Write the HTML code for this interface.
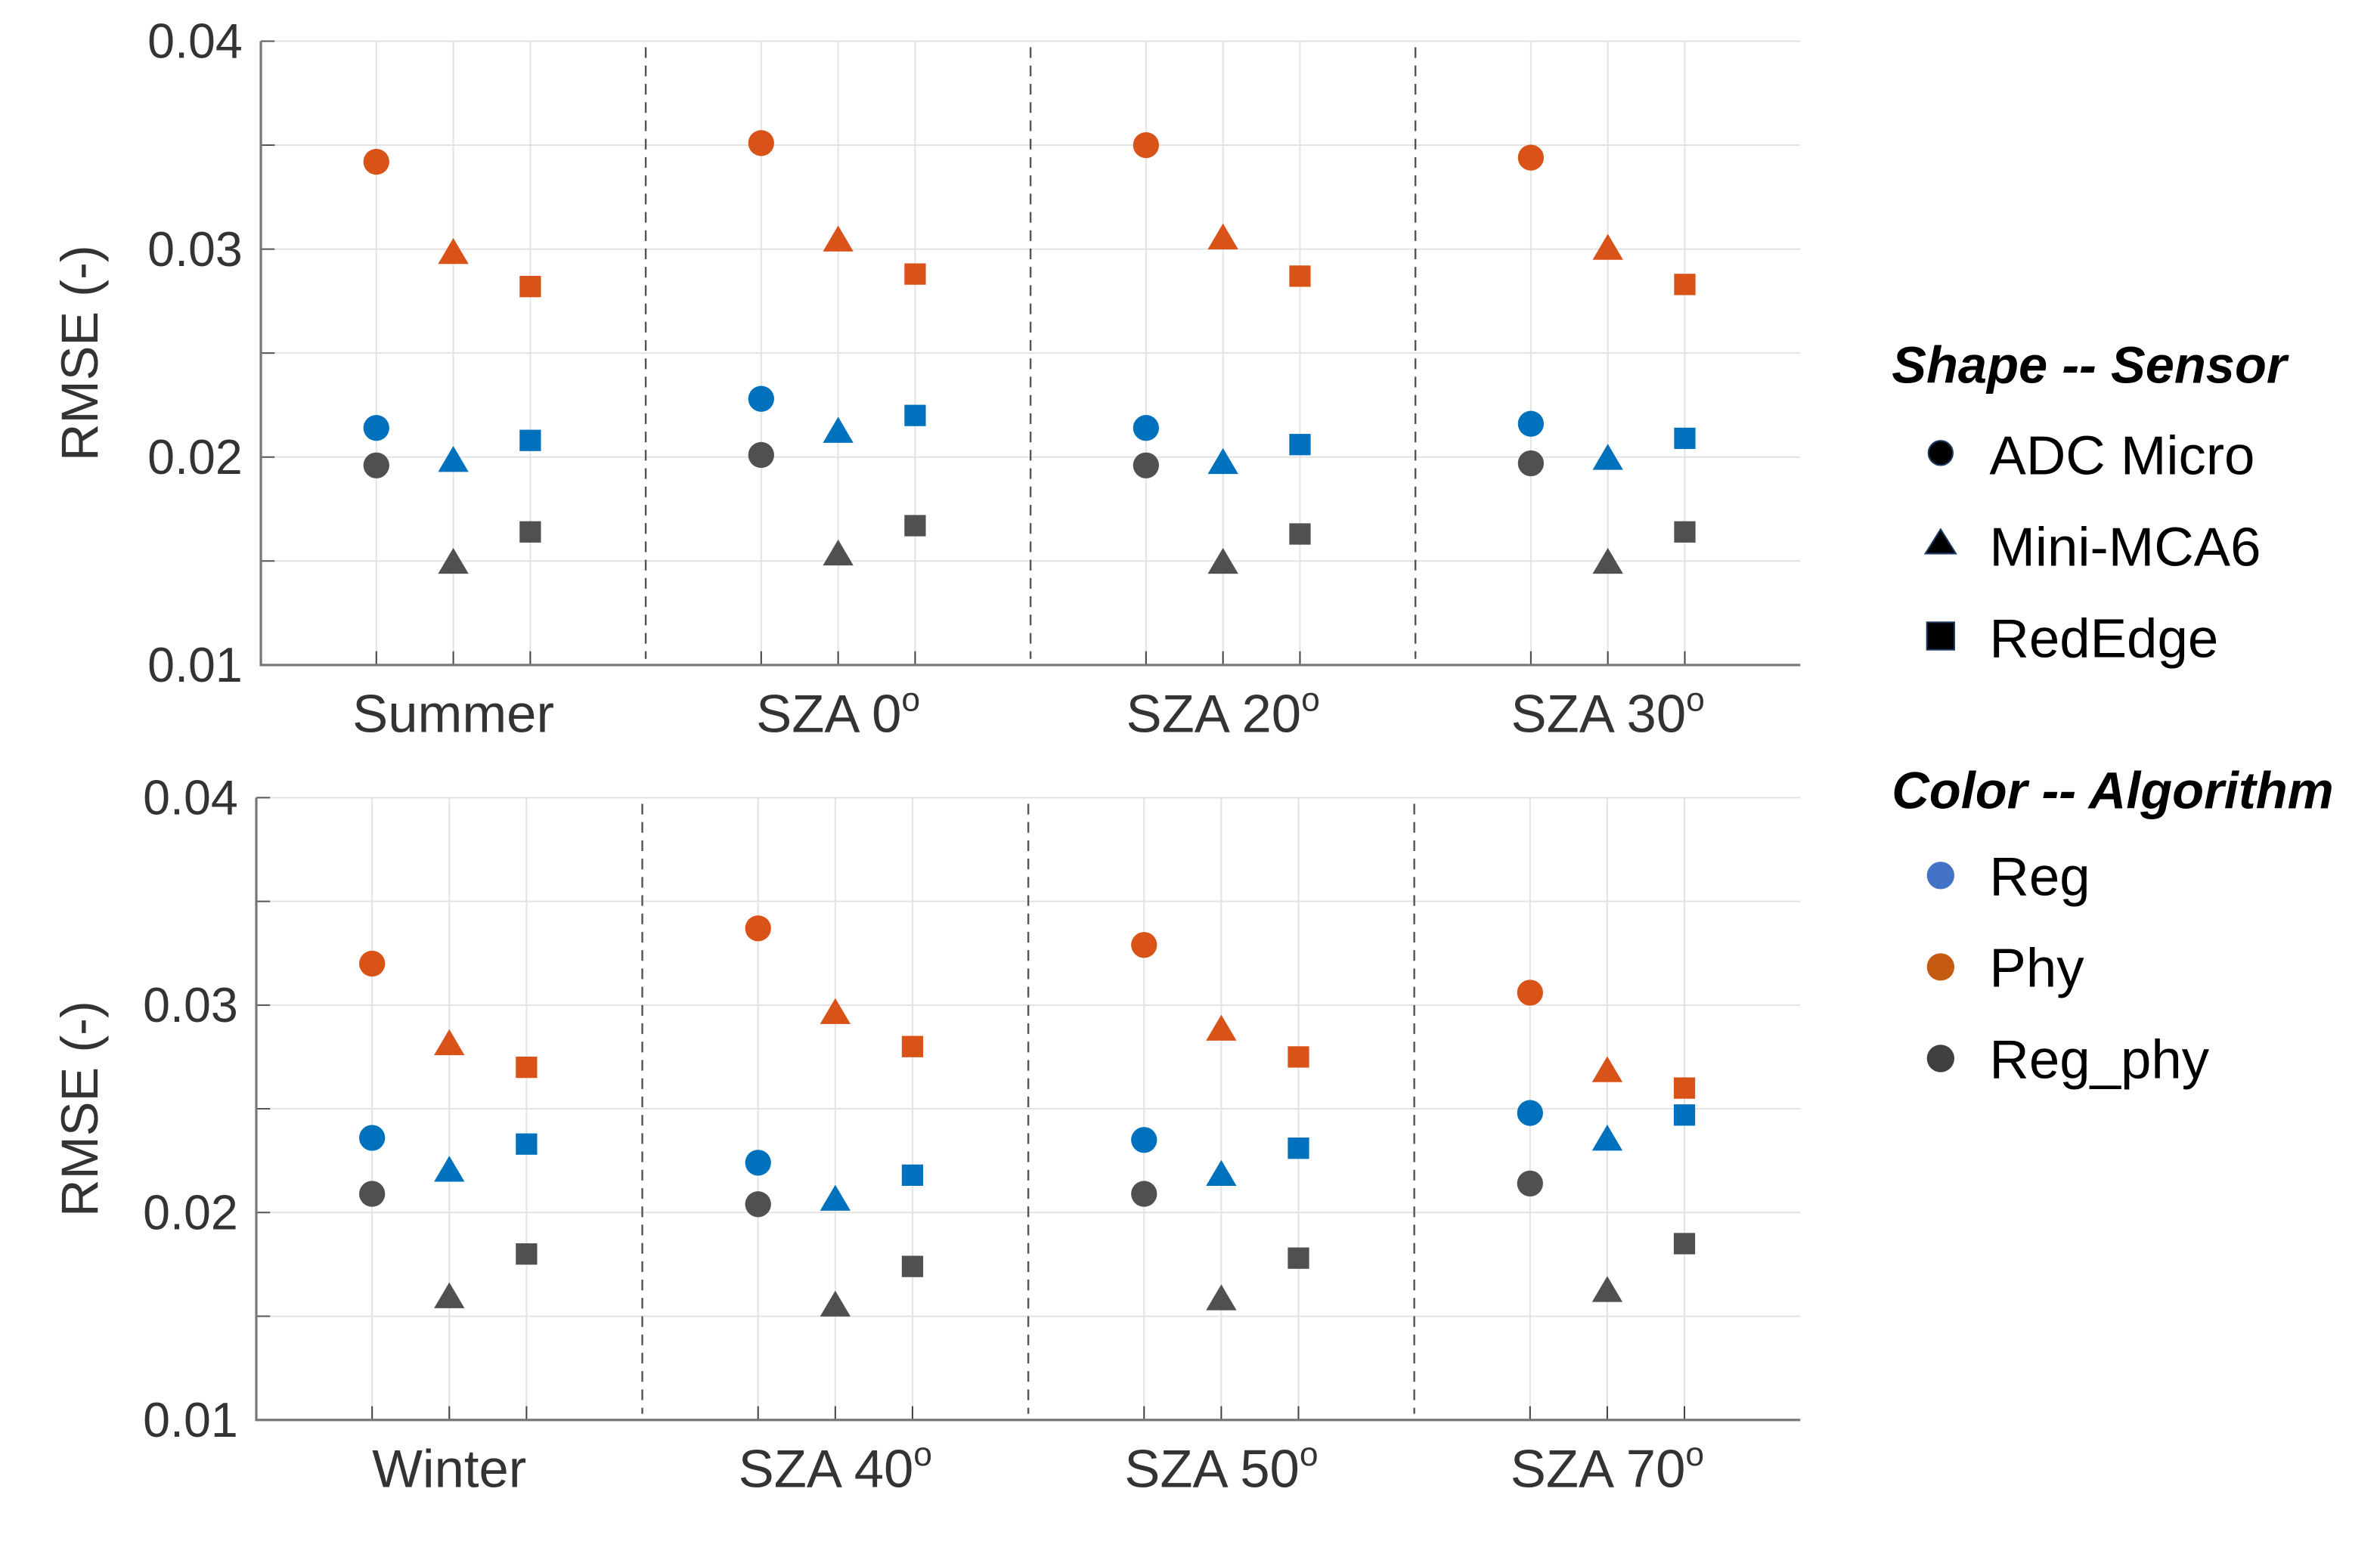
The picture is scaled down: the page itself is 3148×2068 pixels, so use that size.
<!DOCTYPE html>
<html><head><meta charset="utf-8"><style>
html,body{margin:0;padding:0;background:#fff;}
svg{display:block;}
</style></head><body>
<svg id="chart" xmlns="http://www.w3.org/2000/svg" width="3148" height="2068" viewBox="0 0 1560 1024.8" font-family="'Liberation Sans', sans-serif">
<g id="plots"></g>
<g id="legend">
  <text x="1240" y="251" font-size="34" font-weight="bold" font-style="italic" fill="#000">Shape -- Sensor</text>
  <circle cx="1272" cy="297" r="8" fill="#000" stroke="#1f3864" stroke-width="1"/>
  <text x="1304" y="311" font-size="36" fill="#000">ADC Micro</text>
  <polygon points="1272,347 1262,363 1282,363" fill="#000" stroke="#1f3864" stroke-width="1"/>
  <text x="1304" y="371" font-size="36" fill="#000">Mini-MCA6</text>
  <rect x="1263" y="408" width="18" height="18" fill="#000" stroke="#1f3864" stroke-width="1"/>
  <text x="1304" y="431" font-size="36" fill="#000">RedEdge</text>
  <text x="1240" y="530" font-size="34" font-weight="bold" font-style="italic" fill="#000">Color -- Algorithm</text>
  <circle cx="1272" cy="574" r="9" fill="#4472C4"/>
  <text x="1304" y="587" font-size="36" fill="#000">Reg</text>
  <circle cx="1272" cy="634" r="9" fill="#C55A11"/>
  <text x="1304" y="647" font-size="36" fill="#000">Phy</text>
  <circle cx="1272" cy="694" r="9" fill="#404040"/>
  <text x="1304" y="707" font-size="36" fill="#000">Reg_phy</text>
</g>
</svg>
<script>
// Data
const topGroups = ["Summer", "SZA 0", "SZA 20", "SZA 30"];
const bottomGroups = ["Winter", "SZA 40", "SZA 50", "SZA 70"];
const sensors = ["circle", "triangle", "square"];
const algorithms = ["Reg", "Phy", "Reg_phy"];
const yTicks = [0.01, 0.02, 0.03, 0.04];
const yTickLabels = ["0.01", "0.02", "0.03", "0.04"];
// values[group][sensor] per algorithm
const topReg = [[0.0214,0.0198,0.0208],[0.0228,0.0212,0.0220],[0.0214,0.0197,0.0206],[0.0216,0.0199,0.0209]];
const topPhy = [[0.0342,0.0298,0.0282],[0.0351,0.0304,0.0288],[0.0350,0.0305,0.0287],[0.0344,0.0300,0.0283]];
const topRegPhy = [[0.0196,0.0149,0.0164],[0.0201,0.0153,0.0167],[0.0196,0.0149,0.0163],[0.0197,0.0149,0.0164]];
const botReg = [[0.0236,0.0220,0.0233],[0.0224,0.0206,0.0218],[0.0235,0.0218,0.0231],[0.0248,0.0235,0.0247]];
const botPhy = [[0.0320,0.0281,0.0270],[0.0337,0.0296,0.0280],[0.0329,0.0288,0.0275],[0.0306,0.0268,0.0260]];
const botRegPhy = [[0.0209,0.0159,0.0180],[0.0204,0.0155,0.0174],[0.0209,0.0158,0.0178],[0.0214,0.0162,0.0185]];

const NS = "http://www.w3.org/2000/svg";
const colors = {Reg:"#0072BD", Phy:"#D95319", Reg_phy:"#505050"};
function el(tag, attrs, parent){const e=document.createElementNS(NS,tag);for(const k in attrs)e.setAttribute(k,attrs[k]);parent.appendChild(e);return e;}

function panel(name, groups, reg, phy, rp, box){
  const g = el("g",{},document.getElementById("plots"));
  
  
  const xs = p => box.x0 + (p + 1.5) / 20 * (box.x1 - box.x0);
  const ys = v => box.y1 - (v - 0.01) / 0.03 * (box.y1 - box.y0);
  for (let v = 0.01; v <= 0.04001; v += 0.005) {
    const l = el("line",{x1:box.x0,x2:box.x1,y1:ys(v),y2:ys(v),stroke:"#e3e3e3","stroke-width":1},g);
    
    
    const t = el("line",{x1:box.x0,x2:box.x0+9,y1:ys(v),y2:ys(v),stroke:"#555","stroke-width":1},g);
    
    
  }
  groups.forEach((gn, gi) => {
    for (let s = 0; s < 3; s++) {
      const p = gi * 5 + s;
      const l = el("line",{x1:xs(p),x2:xs(p),y1:box.y0,y2:box.y1,stroke:"#e3e3e3","stroke-width":1},g);
      
      
      const t = el("line",{x1:xs(p),x2:xs(p),y1:box.y1,y2:box.y1-9,stroke:"#444","stroke-width":1},g);
      
      
    }
    if (gi > 0) {
      const d = el("line",{x1:xs(gi*5-1.5),x2:xs(gi*5-1.5),y1:box.y0+4,y2:box.y1-4,stroke:"#555","stroke-width":1.2,"stroke-dasharray":"7,5"},g);
      
      
    }
    const lbl = el("text",{x:xs(gi*5+1),y:box.y1+44,"font-size":35,fill:"#333","text-anchor":"middle"},g);
    lbl.textContent = gn;
    if (gi > 0) { const sup = el("tspan",{"font-size":22,dy:-14},lbl); sup.textContent = "o"; }
    
    
  });
  const ax = el("path",{d:`M${box.x0},${box.y0} V${box.y1} H${box.x1}`,fill:"none",stroke:"#777","stroke-width":1.6},g);
  
  
  yTicks.forEach((v, i) => {
    const t = el("text",{x:box.x0-12,y:ys(v)+11,"font-size":32,fill:"#333","text-anchor":"end"},g);
    t.textContent = yTickLabels[i];
    
    
  });
  const yc = (box.y0 + box.y1) / 2;
  const yt = el("text",{x:0,y:0,"font-size":34,fill:"#333","text-anchor":"middle",transform:`translate(64,${yc}) rotate(-90)`},g);
  yt.textContent = "RMSE (-)";
  
  
  const series = [["Reg",reg],["Phy",phy],["Reg_phy",rp]];
  series.forEach(([alg, vals]) => {
    vals.forEach((row, gi) => {
      row.forEach((v, s) => {
        const cx = xs(gi*5+s), cy = ys(v), c = colors[alg];
        let m;
        if (sensors[s] === "circle") m = el("ellipse",{cx:cx,cy:cy,rx:8.5,ry:8.5,fill:c},g);
        else if (sensors[s] === "triangle") m = el("polygon",{points:`${cx},${cy-10} ${cx-10},${cy+7} ${cx+10},${cy+7}`,fill:c},g);
        else m = el("rect",{x:cx-7,y:cy-7,width:14,height:14,fill:c},g);
        
        
      });
    });
  });
}
panel("top-panel", topGroups, topReg, topPhy, topRegPhy, {x0:171,x1:1180,y0:27,y1:436});
panel("bottom-panel", bottomGroups, botReg, botPhy, botRegPhy, {x0:168,x1:1180,y0:523,y1:931});
</script>
</body></html>
